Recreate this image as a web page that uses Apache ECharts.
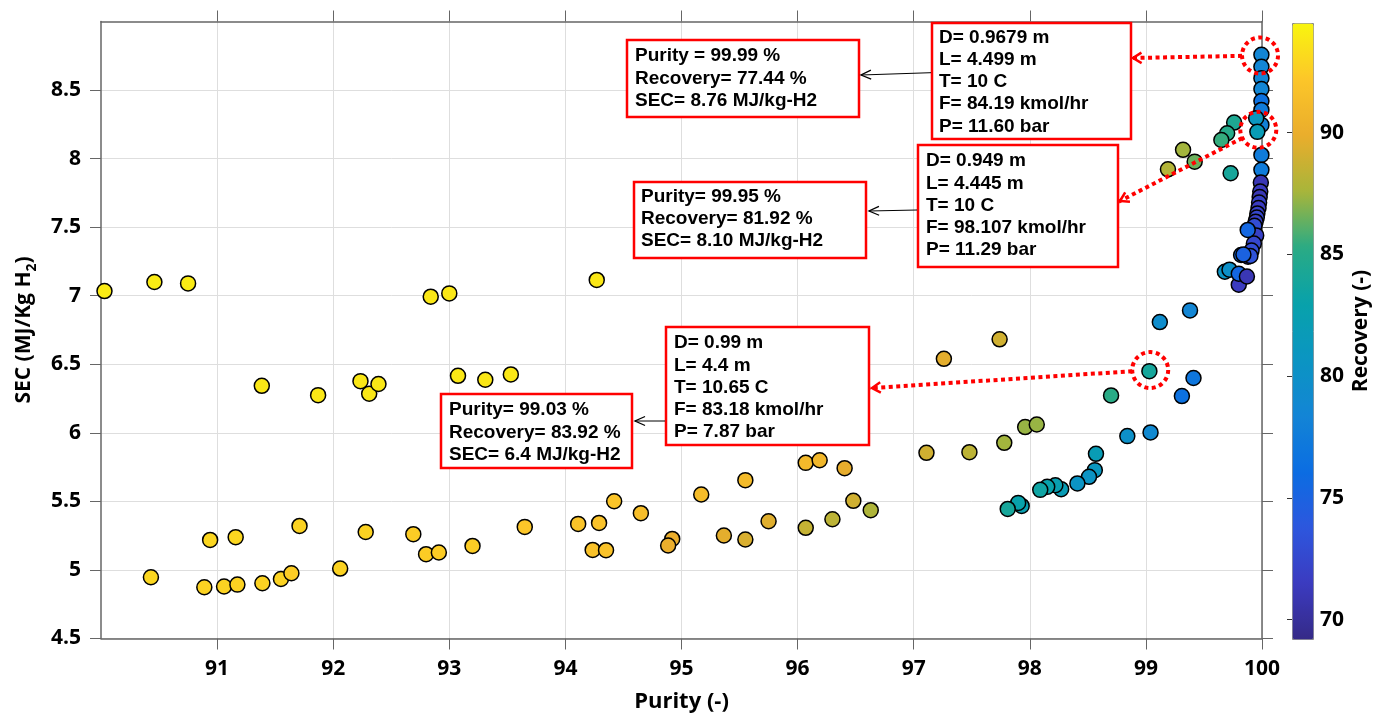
<!DOCTYPE html>
<html>
<head>
<meta charset="utf-8">
<script src="https://cdn.jsdelivr.net/npm/echarts@6/dist/echarts.min.js"></script>
<style>
html, body { margin: 0; padding: 0; background: #fff; }
#secChart { width: 1373px; height: 718px; }
</style>
</head>
<body>
<div id="secChart"></div>
<script>
// design points: purity (-), SEC (MJ/kg H2), recovery (-)
var purity = [
  90.03, 90.46, 90.75, 91.385, 91.87, 92.235, 92.31, 92.39,
  90.43, 90.94, 91.16, 90.89, 91.06, 91.175, 91.39, 91.55, 91.64, 91.71, 92.06, 92.28,
  92.84, 93.0, 94.27, 93.075, 93.31, 93.53,
  92.69, 92.80, 92.91, 93.20, 93.65, 94.11, 94.29, 94.42, 94.235, 94.35, 94.65, 94.92, 94.885,
  95.17, 95.365, 95.55, 95.55, 95.75, 96.07, 96.19, 96.405, 96.07, 96.30, 96.48, 96.63,
  97.11, 97.26, 97.74, 97.48, 97.78, 97.96, 98.06, 98.70, 99.03,
  99.12, 99.38, 99.41, 99.31, 98.84, 99.04,
  98.57, 98.56, 98.51, 98.41, 98.27, 98.22, 98.15, 98.09, 97.93, 97.90, 97.81,
  99.68, 99.72, 99.80, 99.80, 99.87, 99.82, 99.88,
  99.76, 99.70, 99.65, 99.32, 99.42, 99.19, 99.73,
  99.995, 99.995, 99.995, 99.995, 99.995, 99.995, 99.995, 99.95, 99.96, 99.995, 99.995, 99.99,
  99.985, 99.98, 99.975, 99.97, 99.96, 99.955, 99.945, 99.935, 99.95, 99.93, 99.91, 99.90, 99.877, 99.84
];
var sec = [
  7.034, 7.10, 7.09, 6.343, 6.275, 6.377, 6.285, 6.356,
  4.947, 5.219, 5.239, 4.874, 4.879, 4.893, 4.903, 4.934, 4.976, 5.321, 5.010, 5.277,
  6.993, 7.017, 7.115, 6.416, 6.387, 6.426,
  5.261, 5.115, 5.127, 5.175, 5.314, 5.336, 5.343, 5.501, 5.146, 5.144, 5.414, 5.226, 5.178,
  5.55, 5.251, 5.655, 5.222, 5.355, 5.781, 5.80, 5.742, 5.307, 5.37, 5.504, 5.436,
  5.854, 6.54, 6.682, 5.859, 5.927, 6.042, 6.061, 6.273, 6.45,
  6.808, 6.893, 6.40, 6.268, 5.976, 6.003,
  5.847, 5.728, 5.679, 5.631, 5.589, 5.618, 5.606, 5.584, 5.467, 5.489, 5.445,
  7.175, 7.19, 7.08, 7.16, 7.14, 7.297, 7.285,
  8.263, 8.185, 8.136, 8.064, 7.978, 7.922, 7.893,
  8.757, 8.67, 8.587, 8.507, 8.42, 8.355, 8.246, 8.295, 8.195, 8.027, 7.918, 7.825,
  7.76, 7.72, 7.68, 7.64, 7.60, 7.57, 7.54, 7.51, 7.44, 7.38, 7.33, 7.29, 7.48, 7.30
];
var recovery = [
  94, 94, 94, 93.8, 93.8, 93.8, 93.8, 93.8,
  93, 93, 93, 92.8, 92.8, 92.8, 92.8, 92.8, 92.5, 92.8, 92.8, 92.8,
  93.8, 93.8, 93.8, 93.8, 93.8, 93.8,
  92.5, 92.5, 92.5, 92.5, 92.2, 92, 91.8, 92, 91.8, 91.8, 91.5, 90, 90,
  91.3, 89.7, 91.2, 89.3, 89.5, 91, 90.8, 89.8, 88.6, 88.3, 89, 87.8,
  89, 89.7, 89, 88.3, 87.5, 87.3, 87.3, 85.2, 83.92,
  79.5, 78.5, 77, 76.5, 80, 79,
  82, 81, 80.5, 80.5, 82, 82.5, 83, 83.5, 82.5, 83, 84,
  80.5, 80, 71.5, 75.5, 71, 75.5, 72,
  84.5, 85, 85.5, 87.5, 86.5, 88, 84,
  78.5, 78.5, 78.5, 78.5, 76.5, 77.5, 78, 81, 81.92, 77.5, 77.5, 71,
  71.5, 71, 72, 71.5, 72, 72.5, 72, 73, 72, 72.5, 73, 73.5, 75.5, 75
];

var purityTicks = [91, 92, 93, 94, 95, 96, 97, 98, 99, 100];
var secTicks = [4.5, 5, 5.5, 6, 6.5, 7, 7.5, 8, 8.5];
var recoveryTicks = [70, 75, 80, 85, 90];

// parula-like colormap, evenly spaced from min to max recovery
var parula = ['#352a87', '#3b3bc0', '#2d57de', '#0b6de2', '#1385d5', '#0b95c2',
              '#08a2ab', '#2aab84', '#a8b53a', '#eaad2c', '#fcc629', '#f9f50e'];

var points = purity.map(function (p, i) { return [p, sec[i], recovery[i]]; });

var labelFont = { fontFamily: 'Open Sans', fontWeight: 'bold', fontSize: 21, color: '#000' };
var axisGray = '#666';

var chart = echarts.init(document.getElementById('secChart'));

var option = {
  animation: false,
  backgroundColor: '#fff',
  grid: [
    { left: 101, top: 21.5, width: 1161, height: 617 },
    { left: 1292, top: 23, width: 21, height: 616 }
  ],
  xAxis: [
    {
      type: 'value', gridIndex: 0, position: 'bottom', min: 90, max: 100, interval: 1,
      name: 'Purity (-)', nameLocation: 'middle', nameGap: 52,
      nameTextStyle: { fontFamily: 'Open Sans', fontWeight: 'bold', fontSize: 22, color: '#000' },
      axisLine: { lineStyle: { color: axisGray, width: 1.5 } },
      axisTick: { length: 11, lineStyle: { color: axisGray }, customValues: purityTicks },
      axisLabel: Object.assign({ margin: 20, customValues: purityTicks }, labelFont),
      splitLine: { show: true, lineStyle: { color: '#dedede' } }
    },
    {
      type: 'value', gridIndex: 0, position: 'top', min: 90, max: 100, interval: 1,
      axisLine: { lineStyle: { color: axisGray, width: 1.5 } },
      axisTick: { length: 11, lineStyle: { color: axisGray }, customValues: purityTicks },
      axisLabel: { show: false },
      splitLine: { show: false }
    },
    { type: 'value', gridIndex: 1, show: false, min: 0, max: 1 }
  ],
  yAxis: [
    {
      type: 'value', gridIndex: 0, position: 'left', min: 4.5, max: 9, interval: 0.5,
      name: '{t|SEC (MJ/Kg H}{s|2}{t|)}', nameLocation: 'middle', nameGap: 62, nameRotate: 90,
      nameTextStyle: {
        rich: {
          t: { fontFamily: 'Open Sans', fontWeight: 'bold', fontSize: 21, color: '#000', lineHeight: 30 },
          s: { fontFamily: 'Open Sans', fontWeight: 'bold', fontSize: 14, color: '#000', lineHeight: 16, verticalAlign: 'bottom' }
        }
      },
      axisLine: { lineStyle: { color: axisGray, width: 1.5 } },
      axisTick: { length: 11, lineStyle: { color: axisGray }, customValues: secTicks },
      axisLabel: Object.assign({ margin: 20, customValues: secTicks }, labelFont),
      splitLine: { show: true, lineStyle: { color: '#dedede' } }
    },
    {
      type: 'value', gridIndex: 0, position: 'right', min: 4.5, max: 9, interval: 0.5,
      axisLine: { show: true, lineStyle: { color: axisGray, width: 1.5 } },
      axisTick: { show: true, length: 11, lineStyle: { color: axisGray }, customValues: secTicks },
      axisLabel: { show: false },
      splitLine: { show: false }
    },
    {
      type: 'value', gridIndex: 1, position: 'right', min: 69.2, max: 94.5,
      name: 'Recovery (-)', nameLocation: 'middle', nameGap: 40, nameRotate: 90,
      nameTextStyle: { fontFamily: 'Open Sans', fontWeight: 'bold', fontSize: 21, color: '#000' },
      axisLine: { show: false },
      axisTick: { show: true, inside: true, length: 5, lineStyle: { color: '#333' }, customValues: recoveryTicks },
      axisLabel: Object.assign({ margin: 9, customValues: recoveryTicks }, labelFont),
      splitLine: { show: false },
      z: 10
    }
  ],
  visualMap: {
    type: 'continuous', min: 69.2, max: 94.5, dimension: 2, seriesIndex: 0,
    left: 1292, top: 23, itemWidth: 21, itemHeight: 616, calculable: false,
    padding: 0, borderColor: '#888', borderWidth: 1,
    inRange: { color: parula }
  },
  series: [{
    type: 'scatter', xAxisIndex: 0, yAxisIndex: 0,
    data: points, symbolSize: 15,
    itemStyle: { borderColor: '#000', borderWidth: 1.5, opacity: 1 }
  }]
};
chart.setOption(option);

// annotations
var boxFont = { fontFamily: '"Liberation Sans", Arial', fontWeight: 'bold', fontSize: 19, fill: '#000' };
function box(x, y, w, h, tx, ty, lines) {
  return [
    { type: 'rect', shape: { x: x, y: y, width: w, height: h }, style: { fill: '#fff', stroke: '#f00', lineWidth: 2.5 }, z: 50 },
    { type: 'text', x: tx, y: ty, style: Object.assign({ text: lines.join('\n'), lineHeight: 22.2, verticalAlign: 'top' }, boxFont), z: 51 }
  ];
}
function arrowHead(tip, from, len, ang, color, w) {
  var a = Math.atan2(from[1] - tip[1], from[0] - tip[0]);
  return {
    type: 'polyline', z: 52,
    shape: { points: [
      [tip[0] + len * Math.cos(a + ang), tip[1] + len * Math.sin(a + ang)],
      tip,
      [tip[0] + len * Math.cos(a - ang), tip[1] + len * Math.sin(a - ang)]
    ] },
    style: { stroke: color, lineWidth: w, fill: null }
  };
}
function blackArrow(from, tip) {
  return [
    { type: 'line', z: 52, shape: { x1: from[0], y1: from[1], x2: tip[0], y2: tip[1] }, style: { stroke: '#000', lineWidth: 1 } },
    arrowHead(tip, from, 11, 0.42, '#000', 1.3)
  ];
}
function redMark(pt, tip) {
  var c = chart.convertToPixel({ gridIndex: 0 }, pt);
  var r = 18;
  var dx = tip[0] - c[0], dy = tip[1] - c[1], d = Math.sqrt(dx * dx + dy * dy);
  var s = [c[0] + dx / d * r, c[1] + dy / d * r];
  return [
    { type: 'circle', z: 53, shape: { cx: c[0], cy: c[1], r: r }, style: { fill: null, stroke: '#f00', lineWidth: 4, lineDash: [4, 3.5] } },
    { type: 'line', z: 53, shape: { x1: s[0], y1: s[1], x2: tip[0] + dx / d * 3, y2: tip[1] + dy / d * 3 }, style: { stroke: '#f00', lineWidth: 4, lineDash: [4, 3.5] } },
    arrowHead(tip, s, 10, 0.55, '#f00', 2.5)
  ];
}

var g = [].concat(
  box(627, 40, 232, 77, 635, 45, ['Purity = 99.99 %', 'Recovery= 77.44 %', 'SEC= 8.76 MJ/kg-H2']),
  box(932, 23, 199, 116, 939, 26.5, ['D= 0.9679 m', 'L= 4.499 m', 'T= 10 C', 'F= 84.19 kmol/hr', 'P= 11.60 bar']),
  box(634, 182, 232, 76, 641, 185.5, ['Purity= 99.95 %', 'Recovery= 81.92 %', 'SEC= 8.10 MJ/kg-H2']),
  box(918, 145, 200, 122, 926, 150, ['D= 0.949 m', 'L= 4.445 m', 'T= 10 C', 'F= 98.107 kmol/hr', 'P= 11.29 bar']),
  box(666, 327, 203, 118, 674, 332, ['D= 0.99 m', 'L= 4.4 m', 'T= 10.65 C', 'F= 83.18 kmol/hr', 'P= 7.87 bar']),
  box(441, 394, 191, 74, 449, 399, ['Purity= 99.03 %', 'Recovery= 83.92 %', 'SEC= 6.4 MJ/kg-H2']),
  blackArrow([931, 72.7], [861, 75]),
  blackArrow([917, 210], [869, 211]),
  blackArrow([665, 421], [635, 421]),
  redMark([99.983, 8.752], [1133, 58]),
  redMark([99.968, 8.21], [1120, 201]),
  redMark([99.037, 6.458], [872, 388])
);
chart.setOption({ graphic: g });
</script>
</body>
</html>
